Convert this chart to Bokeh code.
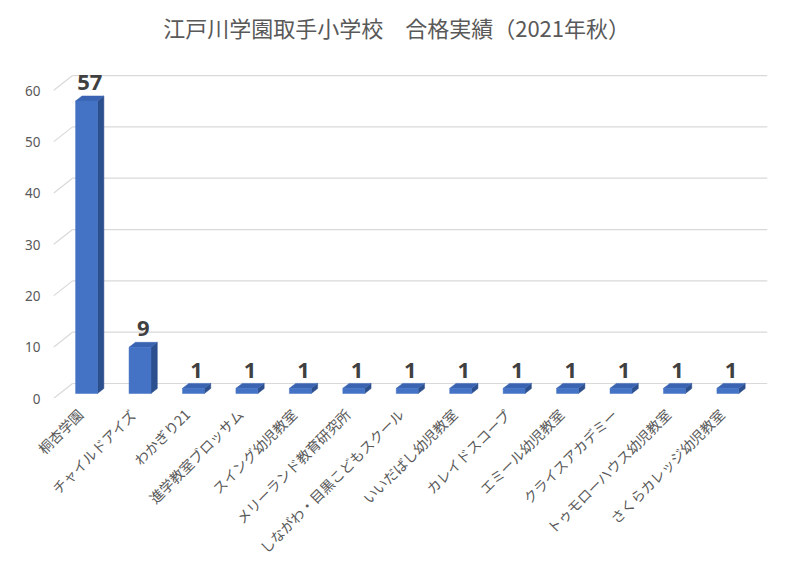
import math
from bokeh.plotting import figure
from bokeh.models import Range1d, FixedTicker
from bokeh.core.properties import value
from bokeh.embed import file_html
from bokeh.resources import INLINE

# ---------------- data ----------------
title_text = "江戸川学園取手小学校　合格実績（2021年秋）"
schools = [
    "桐杏学園",
    "チャイルドアイズ",
    "わかぎり21",
    "進学教室ブロッサム",
    "スイング幼児教室",
    "メリーランド教育研究所",
    "しながわ・目黒こどもスクール",
    "いいだばし幼児教室",
    "カレイドスコープ",
    "エミール幼児教室",
    "クライスアカデミー",
    "トゥモローハウス幼児教室",
    "さくらカレッジ幼児教室",
]
passes = [57, 9, 1, 1, 1, 1, 1, 1, 1, 1, 1, 1, 1]
y_ticks = [0, 10, 20, 30, 40, 50, 60]

# ---------------- style / 3D geometry ----------------
JP = "Noto Sans CJK JP"
TXT = "#595959"
GRID = "#D9D9D9"
FRONT = "#4472C4"
SIDE = "#2C4F8E"
TOP = "#3A64B2"

DX = 0.356   # depth of the floor along x (category units)
DY = 2.92    # depth of the floor along y (value units)
BAR_W = 0.41
X_MAX = 12.86
Y_MAX = 75.6
LABEL_GAP = 2.6   # distance from bar top to the centre of its value label (value units)

p = figure(width=784, height=567, output_backend="svg", toolbar_location=None,
           x_range=Range1d(-0.5, X_MAX), y_range=Range1d(0, Y_MAX),
           min_border_left=53, min_border_right=17, min_border_top=10,
           min_border_bottom=169)
p.outline_line_color = None
p.grid.visible = False
p.background_fill_color = "white"
p.border_fill_color = "white"

# walls: back-wall gridlines and left-wall diagonal stubs
back_y = [t + DY for t in y_ticks]
p.segment(x0=[-0.5 + DX] * len(y_ticks), y0=back_y, x1=[X_MAX] * len(y_ticks), y1=back_y,
          line_color=GRID, line_width=1.2)
p.segment(x0=[-0.5] * len(y_ticks), y0=y_ticks, x1=[-0.5 + DX] * len(y_ticks), y1=back_y,
          line_color=GRID, line_width=1.2)

# 3D bars
fx0, fx1, fy0, fy1 = [], [], [], []
side_xs, side_ys, top_xs, top_ys = [], [], [], []
lab_x, lab_y, lab_t = [], [], []
ddx, ddy = DX / 3, DY / 3
for i, v in enumerate(passes):
    x0 = i + ddx - BAR_W / 2
    x1 = x0 + BAR_W
    yb = ddy
    yt = yb + v
    fx0.append(x0); fx1.append(x1); fy0.append(yb); fy1.append(yt)
    side_xs.append([x1, x1 + ddx, x1 + ddx, x1])
    side_ys.append([yb, yb + ddy, yt + ddy, yt])
    top_xs.append([x0, x1, x1 + ddx, x0 + ddx])
    top_ys.append([yt, yt, yt + ddy, yt + ddy])
    lab_x.append(x0 + (BAR_W + ddx) / 2)
    lab_y.append(yt + ddy + LABEL_GAP)
    lab_t.append(str(v))

p.patches(xs=side_xs, ys=side_ys, fill_color=SIDE, line_color=SIDE, line_width=0.5)
p.patches(xs=top_xs, ys=top_ys, fill_color=TOP, line_color=TOP, line_width=0.5)
p.quad(left=fx0, right=fx1, bottom=fy0, top=fy1, fill_color=FRONT, line_color=FRONT, line_width=0.5)

p.text(x=lab_x, y=lab_y, text=lab_t, text_align="center", text_baseline="middle",
       text_font=value("Noto Sans"), text_font_style="bold",
       text_font_size="22px", text_color="#404040")

# title (centred over the chart as in the original)
p.text(x=[5.92], y=[72.3], text=[title_text], text_align="center", text_baseline="middle",
       text_font=value(JP), text_font_size="22px", text_color=TXT)

# axes
p.yaxis.ticker = FixedTicker(ticks=y_ticks)
p.yaxis.axis_line_color = None
p.yaxis.major_tick_line_color = None
p.yaxis.minor_tick_line_color = None
p.yaxis.major_tick_out = 0
p.yaxis.major_tick_in = 0
p.yaxis.major_label_standoff = 13
p.yaxis.major_label_text_color = TXT
p.yaxis.major_label_text_font = "Noto Sans"
p.yaxis.major_label_text_font_size = "13.5px"

p.xaxis.ticker = FixedTicker(ticks=list(range(len(schools))))
p.xaxis.major_label_overrides = {i: s for i, s in enumerate(schools)}
p.xaxis.major_label_orientation = math.pi / 4
p.xaxis.axis_line_color = None
p.xaxis.major_tick_line_color = None
p.xaxis.minor_tick_line_color = None
p.xaxis.major_tick_out = 0
p.xaxis.major_tick_in = 0
p.xaxis.major_label_standoff = 13
p.xaxis.major_label_text_color = TXT
p.xaxis.major_label_text_font = JP
p.xaxis.major_label_text_font_size = "14px"

open("out.html", "w").write(file_html(p, INLINE))
